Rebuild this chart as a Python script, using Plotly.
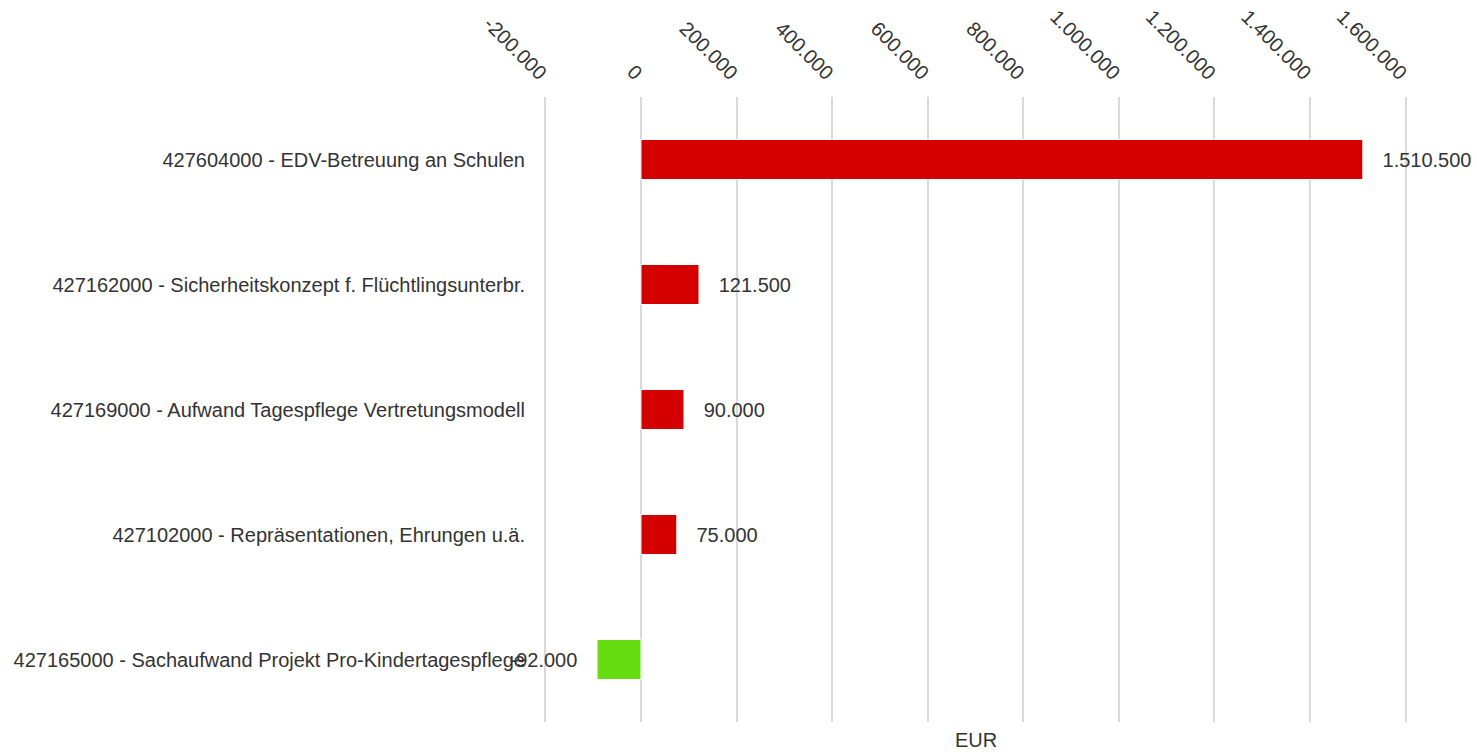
import plotly.graph_objects as go

categories = [
    "427604000 - EDV-Betreuung an Schulen",
    "427162000 - Sicherheitskonzept f. Flüchtlingsunterbr.",
    "427169000 - Aufwand Tagespflege Vertretungsmodell",
    "427102000 - Repräsentationen, Ehrungen u.ä.",
    "427165000 - Sachaufwand Projekt Pro-Kindertagespflege",
]
values = [1510500, 121500, 90000, 75000, -92000]
value_labels = ["1.510.500", "121.500", "90.000", "75.000", "-92.000"]
tick_vals = [-200000, 0, 200000, 400000, 600000, 800000, 1000000, 1200000, 1400000, 1600000]
tick_text = ["-200.000", "0", "200.000", "400.000", "600.000", "800.000",
             "1.000.000", "1.200.000", "1.400.000", "1.600.000"]

colors = ["#d40000" if v >= 0 else "#66dd11" for v in values]
templates = ["   %{text}" if v >= 0 else "%{text}   " for v in values]
FONT = "Liberation Sans, Arial, sans-serif"

fig = go.Figure(go.Bar(
    y=categories, x=values, orientation="h",
    marker=dict(color=colors, line=dict(color="white", width=1)),
    width=0.32,
    text=value_labels,
    texttemplate=templates,
    textposition="outside",
    textfont=dict(family=FONT, size=20, color="#333333"),
    cliponaxis=False,
    hoverinfo="skip",
))

fig.update_layout(
    width=1477, height=752,
    margin=dict(l=543, r=69, t=97, b=30),
    paper_bgcolor="white", plot_bgcolor="white",
    showlegend=False,
    font=dict(family=FONT, size=20, color="#333333"),
    xaxis=dict(
        side="top", range=[-205000, 1605000], automargin=False,
        tickvals=tick_vals, ticktext=tick_text, tickangle=45,
        showgrid=True, gridcolor="#d9d9d9", gridwidth=2,
        zeroline=False, showline=False, ticks="",
        ticklabelstandoff=8,
        tickfont=dict(family=FONT, size=20, color="#333333"),
    ),
    yaxis=dict(
        autorange="reversed", automargin=False,
        showgrid=False, zeroline=False, showline=False,
        ticks="", ticklabelstandoff=17,
        tickfont=dict(family=FONT, size=20, color="#333333"),
    ),
    annotations=[dict(
        text="EUR", xref="paper", yref="paper", x=0.5, y=0, yanchor="middle",
        yshift=-18, showarrow=False,
        font=dict(family=FONT, size=20, color="#333333"),
    )],
)

fig.write_html(
    "out.html",
    config={"displayModeBar": False},
    post_script="document.body.style.margin='0';document.body.style.overflow='hidden';",
)
